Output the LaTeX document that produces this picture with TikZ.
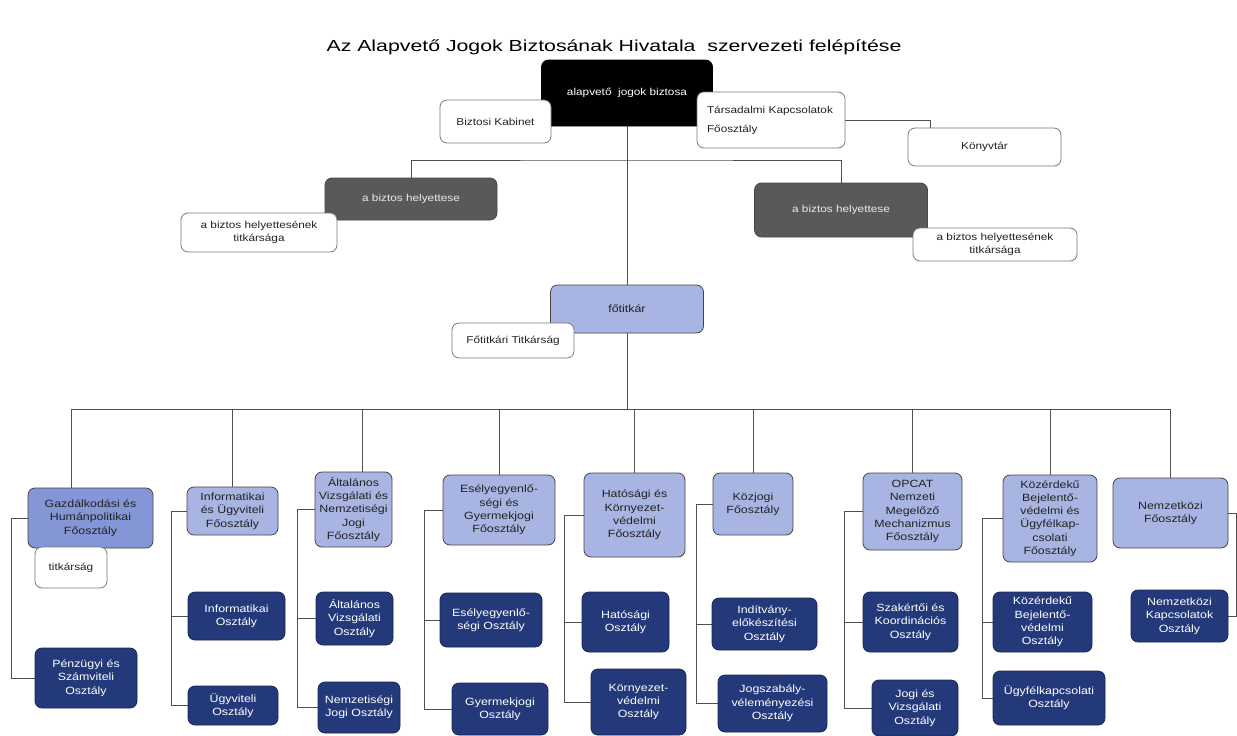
\documentclass[tikz,border=0pt]{standalone}
\usepackage{fontspec}
\setmainfont{Liberation Sans}[FakeStretch=1.18]
\newfontfamily\titlefont{Liberation Sans}[FakeStretch=1.33]
\usetikzlibrary{backgrounds}
\usepackage{xcolor}

\definecolor{folight}{RGB}{168,181,227}
\definecolor{fomid}{RGB}{132,150,214}
\definecolor{navy}{RGB}{36,57,122}
\definecolor{deputygrey}{RGB}{89,89,89}
\definecolor{boxline}{RGB}{70,70,70}
\definecolor{whiteline}{RGB}{120,120,120}
\definecolor{connline}{RGB}{80,80,80}
\definecolor{textdark}{RGB}{34,34,34}

\begin{document}
\begin{tikzpicture}[x=1pt, y=-1pt,
    box/.style={rectangle, rounded corners=7pt, draw=boxline, line width=0.8pt, inner sep=1pt, align=center, font=\fontsize{10.5}{13.3}\selectfont},
    whitebox/.style={box, fill=white, draw=whiteline, text=textdark, font=\fontsize{10}{13}\selectfont},
    chiefbox/.style={box, fill=black, draw=black, text=white, font=\fontsize{10}{13}\selectfont},
    deputybox/.style={box, fill=deputygrey, draw=boxline, text=white!92!black, font=\fontsize{10}{13}\selectfont},
    fobox/.style={box, fill=folight, text=textdark},
    unitbox/.style={box, fill=navy, draw=navy!70!black, text=white},
    conn/.style={draw=connline, line width=0.9pt}
]
\useasboundingbox (0,0) rectangle (1237,736);

\node[font=\titlefont\fontsize{16}{19}\selectfont] (title) at (614,47) {Az Alapvető Jogok Biztosának Hivatala~ szervezeti felépítése};

% top level
\node[chiefbox, minimum width=171, minimum height=66] (chief) at (627,93) {alapvető~ jogok biztosa};
\node[whitebox, minimum width=111, minimum height=43] (kabinet) at (495.5,121.5) {Biztosi Kabinet};
\node[whitebox, minimum width=148, minimum height=56, text width=128, align=left, inner xsep=10, font=\fontsize{10}{19}\selectfont] (tarsadalmi) at (771,120) {Társadalmi Kapcsolatok\\Főosztály};
\node[whitebox, minimum width=153, minimum height=38] (konyvtar) at (984.5,147) {Könyvtár};

% deputies
\node[deputybox, minimum width=172, minimum height=42] (dep1) at (411,199) {a biztos helyettese};
\node[whitebox, minimum width=156, minimum height=39] (dep1sec) at (259,232.5) {a biztos helyettesének\\titkársága};
\node[deputybox, minimum width=173, minimum height=54] (dep2) at (841,210) {a biztos helyettese};
\node[whitebox, minimum width=164, minimum height=33] (dep2sec) at (995,244.5) {a biztos helyettesének\\titkársága};

% secretary general
\node[fobox, minimum width=153, minimum height=48] (fotitkar) at (627,309) {főtitkár};
\node[whitebox, minimum width=122, minimum height=35] (fotitkarsec) at (513,340.5) {Főtitkári Titkárság};

% departments
\node[box, fill=fomid, text=textdark, minimum width=125, minimum height=60] (gazd) at (90.5,518) {Gazdálkodási és\\Humánpolitikai\\Főosztály};
\node[whitebox, minimum width=72, minimum height=41] (gazdsec) at (71,567.5) {titkárság};
\node[unitbox, minimum width=102, minimum height=60] (penz) at (86,678) {Pénzügyi és\\Számviteli\\Osztály};

\node[fobox, minimum width=91, minimum height=48] (info) at (232.5,511) {Informatikai\\és Ügyviteli\\Főosztály};
\node[unitbox, minimum width=97, minimum height=48] (infoo) at (236.5,616) {Informatikai\\Osztály};
\node[unitbox, minimum width=90, minimum height=39] (ugyv) at (233,705.5) {Ügyviteli\\Osztály};

\node[fobox, minimum width=77, minimum height=75] (alt) at (353.5,509.5) {Általános\\Vizsgálati és\\Nemzetiségi\\Jogi\\Főosztály};
\node[unitbox, minimum width=77, minimum height=53] (alto) at (354.5,618.5) {Általános\\Vizsgálati\\Osztály};
\node[unitbox, minimum width=82, minimum height=51] (nemz) at (359,707.5) {Nemzetiségi\\Jogi Osztály};

\node[fobox, minimum width=112, minimum height=70] (esely) at (499,510) {Esélyegyenlő-\\ségi és\\Gyermekjogi\\Főosztály};
\node[unitbox, minimum width=102, minimum height=54] (eselyo) at (491,620) {Esélyegyenlő-\\ségi Osztály};
\node[unitbox, minimum width=96, minimum height=52] (gyerm) at (500,709) {Gyermekjogi\\Osztály};

\node[fobox, minimum width=101, minimum height=84] (hat) at (634.5,515) {Hatósági és\\Környezet-\\védelmi\\Főosztály};
\node[unitbox, minimum width=87, minimum height=60] (hato) at (625.5,622) {Hatósági\\Osztály};
\node[unitbox, minimum width=95, minimum height=66] (korny) at (638.5,702) {Környezet-\\védelmi\\Osztály};

\node[fobox, minimum width=80, minimum height=62] (kozjogi) at (753,504) {Közjogi\\Főosztály};
\node[unitbox, minimum width=105, minimum height=52] (indit) at (764.5,624) {Indítvány-\\előkészítési\\Osztály};
\node[unitbox, minimum width=109, minimum height=57] (jogsz) at (772.5,703.5) {Jogszabály-\\véleményezési\\Osztály};

\node[fobox, minimum width=99, minimum height=77] (opcat) at (912.5,511.5) {OPCAT\\Nemzeti\\Megelőző\\Mechanizmus\\Főosztály};
\node[unitbox, minimum width=95, minimum height=60] (szak) at (910.5,622) {Szakértői és\\Koordinációs\\Osztály};
\node[unitbox, minimum width=86, minimum height=56] (jogi) at (915,708) {Jogi és\\Vizsgálati\\Osztály};

\node[fobox, minimum width=94, minimum height=87] (kozerd) at (1050,518.5) {Közérdekű\\Bejelentő-\\védelmi és\\Ügyfélkap-\\csolati\\Főosztály};
\node[unitbox, minimum width=99, minimum height=60] (kozerdo) at (1042.5,622) {Közérdekű\\Bejelentő-\\védelmi\\Osztály};
\node[unitbox, minimum width=112, minimum height=54] (ugyf) at (1049,698) {Ügyfélkapcsolati\\Osztály};

\node[fobox, minimum width=115, minimum height=70] (nemzk) at (1170.5,513) {Nemzetközi\\Főosztály};
\node[unitbox, minimum width=97, minimum height=52] (nemzko) at (1179.5,616) {Nemzetközi\\Kapcsolatok\\Osztály};

% connectors behind the boxes
\begin{scope}[on background layer]
\fill[white] (0,0) rectangle (1237,736);
\draw[conn] (chief) -- (fotitkar);
\coordinate (dephub) at (627,160);
\draw[conn] (dep1) |- (dephub) -| (dep2);
\draw[conn] (tarsadalmi.east) -| ([xshift=-54.5]konyvtar.north);

\coordinate (hub) at (627,409);
\draw[conn] (fotitkar) -- (hub);
\draw[conn] (hub) -| ([xshift=-19.5]gazd.north);
\draw[conn] (hub) -| ([xshift=8.5]alt.north);
\foreach \n in {info, esely, hat, kozjogi, opcat, kozerd, nemzk}
  \draw[conn] (hub) -| (\n);

% brackets to the units
\draw[conn] (gazd.west) -- ++(-16,0) |- (penz.west);
\draw[conn] (info.west) -- ++(-15,0) coordinate (b2) |- (ugyv.west);
\draw[conn] (infoo.west) -- (infoo.west -| b2);
\draw[conn] (alt.west) -- ++(-17,0) coordinate (b3) |- (nemz.west);
\draw[conn] (alto.west) -- (alto.west -| b3);
\draw[conn] (esely.west) -- ++(-18,0) coordinate (b4) |- (gyerm.west);
\draw[conn] (eselyo.west) -- (eselyo.west -| b4);
\draw[conn] (hat.west) -- ++(-19,0) coordinate (b5) |- (korny.west);
\draw[conn] (hato.west) -- (hato.west -| b5);
\draw[conn] (kozjogi.west) -- ++(-16,0) coordinate (b6) |- (jogsz.west);
\draw[conn] (indit.west) -- (indit.west -| b6);
\draw[conn] (opcat.west) -- ++(-18,0) coordinate (b7) |- (jogi.west);
\draw[conn] (szak.west) -- (szak.west -| b7);
\draw[conn] (kozerd.west) -- ++(-20,0) coordinate (b8) |- (ugyf.west);
\draw[conn] (kozerdo.west) -- (kozerdo.west -| b8);
\draw[conn] (nemzk.east) -- ++(8,0) |- (nemzko.east);
\end{scope}
\end{tikzpicture}
\end{document}
